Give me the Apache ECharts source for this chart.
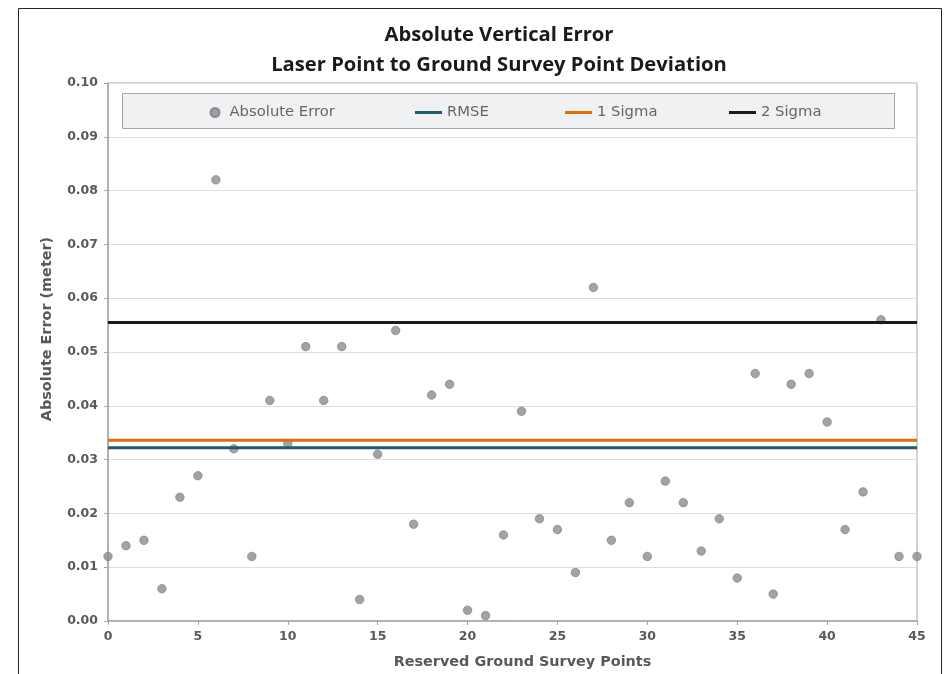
<!DOCTYPE html>
<html>
<head>
<meta charset="utf-8">
<script src="https://cdn.jsdelivr.net/npm/echarts@6/dist/echarts.min.js"></script>
<style>html,body{margin:0;padding:0;background:#fff;}#c{width:945px;height:674px;}</style>
</head>
<body>
<div id="c"></div>
<script>
var pointIds = [0,1,2,3,4,5,6,7,8,9,10,11,12,13,14,15,16,17,18,19,20,21,22,23,24,25,26,27,28,29,30,31,32,33,34,35,36,37,38,39,40,41,42,43,44,45];
var absError = [0.012,0.014,0.015,0.006,0.023,0.027,0.082,0.032,0.012,0.041,0.033,0.051,0.041,0.051,0.004,0.031,0.054,0.018,0.042,0.044,0.002,0.001,0.016,0.039,0.019,0.017,0.009,0.062,0.015,0.022,0.012,0.026,0.022,0.013,0.019,0.008,0.046,0.005,0.044,0.046,0.037,0.017,0.024,0.056,0.012,0.012];
var rmse = 0.0322;
var sigma1 = 0.0336;
var sigma2 = 0.0555;
var xRange = [0, 45];
var seriesNames = ['Absolute Error','RMSE','1 Sigma','2 Sigma'];
var titleLines = ['Absolute Vertical Error','Laser Point to Ground Survey Point Deviation'];

var chart = echarts.init(document.getElementById('c'), null, {renderer:'canvas'});
var scatterData = pointIds.map(function(x,i){return [x, absError[i]];});
function hLine(v){ return [[xRange[0], v],[xRange[1], v]]; }
var labelFont = 'DejaVu Sans';
var lineColors = ['#215a6a','#e36c0a','#1a1a1a'];
var legendBase = {
  top: 105, itemHeight: 3, itemWidth: 27, icon: 'rect',
  textStyle: {fontFamily: labelFont, fontSize: 14.8, color: '#666666'},
  selectedMode: false, padding: 0
};
var option = {
  animation: false,
  backgroundColor: '#ffffff',
  title: {
    text: titleLines.join('\n'),
    left: 494, top: 15, textAlign: 'center',
    textStyle: {fontFamily: 'Open Sans', fontWeight: 'bold', fontSize: 20.2, color: '#1a1a1a', lineHeight: 30}
  },
  graphic: [
    {type:'rect', shape:{x: 18.5, y: 8.5, width: 923, height: 700}, style:{fill:'none', stroke:'#222', lineWidth:1}, z: -10, silent: true},
    {type:'rect', shape:{x: 122.5, y: 93.5, width: 772, height: 35}, style:{fill:'#f0f1f3', stroke:'#a6a6a6', lineWidth:1}, z: 5, silent: true}
  ],
  legend: [
    Object.assign({}, legendBase, {left: 209.5, data: [seriesNames[0]], icon: 'circle', itemWidth: 19, itemHeight: 9, z: 10}),
    Object.assign({}, legendBase, {left: 415, data: [seriesNames[1]], z: 10}),
    Object.assign({}, legendBase, {left: 565, data: [seriesNames[2]], z: 10}),
    Object.assign({}, legendBase, {left: 729, data: [seriesNames[3]], z: 10})
  ],
  grid: {left: 108, right: 28, top: 83, bottom: 53, show: true, borderColor: '#a6a6a6', borderWidth: 1, containLabel: false},
  xAxis: {
    type: 'value', min: xRange[0], max: xRange[1], interval: 5,
    name: 'Reserved Ground Survey Points', nameLocation: 'middle', nameGap: 34,
    nameTextStyle: {fontFamily: labelFont, fontWeight: 'bold', fontSize: 14.4, color: '#595959', padding: [0,0,0,20]},
    axisLine: {show: true, lineStyle: {color: '#a6a6a6', width: 1.5}},
    axisTick: {show: true, length: 4, lineStyle: {color: '#a6a6a6'}},
    axisLabel: {fontFamily: labelFont, fontWeight: 'bold', fontSize: 12.5, color: '#595959', margin: 9},
    splitLine: {show: false}
  },
  yAxis: {
    type: 'value', min: 0, max: 0.1, interval: 0.01,
    name: 'Absolute Error (meter)', nameLocation: 'middle', nameGap: 54,
    nameTextStyle: {fontFamily: labelFont, fontWeight: 'bold', fontSize: 14.4, color: '#595959', padding: [0,0,0,46]},
    axisLine: {show: true, lineStyle: {color: '#a6a6a6', width: 1.5}},
    axisTick: {show: true, length: 4, lineStyle: {color: '#a6a6a6'}},
    axisLabel: {fontFamily: labelFont, fontWeight: 'bold', fontSize: 12.5, color: '#595959', margin: 10,
      formatter: function(v){ return v.toFixed(2); }},
    splitLine: {show: true, lineStyle: {color: '#dedede', width: 1}}
  },
  series: [
    {name: seriesNames[0], type: 'scatter', data: scatterData, symbol: 'circle', symbolSize: 8.5, z: 2,
      itemStyle: {color: '#8c8c90', borderColor: '#7a7a7e', borderWidth: 0.8}},
    {name: seriesNames[1], type: 'line', data: hLine(rmse), showSymbol: false, symbol: 'none', z: 3,
      lineStyle: {color: lineColors[0], width: 3}, itemStyle: {color: lineColors[0]}},
    {name: seriesNames[2], type: 'line', data: hLine(sigma1), showSymbol: false, symbol: 'none', z: 3,
      lineStyle: {color: lineColors[1], width: 3}, itemStyle: {color: lineColors[1]}},
    {name: seriesNames[3], type: 'line', data: hLine(sigma2), showSymbol: false, symbol: 'none', z: 3,
      lineStyle: {color: lineColors[2], width: 3}, itemStyle: {color: lineColors[2]}}
  ]
};
chart.setOption(option);
</script>
</body>
</html>
